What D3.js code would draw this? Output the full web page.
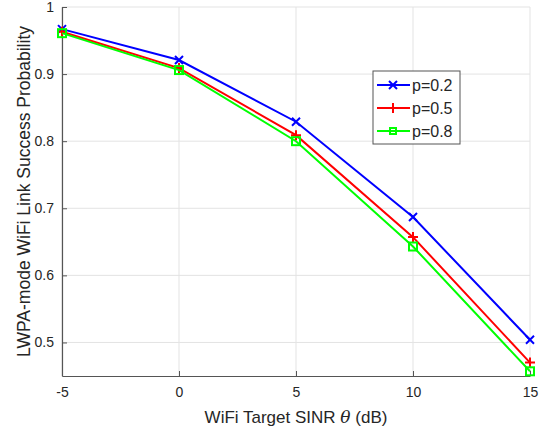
<!DOCTYPE html>
<html>
<head>
<meta charset="utf-8">
<script src="https://cdn.jsdelivr.net/npm/d3@7"></script>
<style>
  body { margin: 0; background: #fff; }
  text { font-family: "Liberation Sans", Arial, Helvetica, sans-serif; fill: #262626; }
</style>
</head>
<body>
<div id="chart"></div>
<script>
// data
var sinr = [-5, 0, 5, 10, 15];
var p02 = [0.967, 0.921, 0.829, 0.687, 0.504];
var p05 = [0.963, 0.909, 0.809, 0.657, 0.470];
var p08 = [0.961, 0.906, 0.800, 0.643, 0.457];
var seriesNames = ["p=0.2", "p=0.5", "p=0.8"];
var xTicks = [-5, 0, 5, 10, 15];
var yTicks = [0.5, 0.6, 0.7, 0.8, 0.9, 1];

var width = 547, height = 431;
var margin = {top: 7, right: 17, bottom: 55, left: 62};
var w = width - margin.left - margin.right,
    h = height - margin.top - margin.bottom;

var series = [
  {name: seriesNames[0], values: p02, color: "#0000ff", marker: "x"},
  {name: seriesNames[1], values: p05, color: "#ff0000", marker: "plus"},
  {name: seriesNames[2], values: p08, color: "#00ff00", marker: "square"}
];

var svg = d3.select("#chart").append("svg")
    .attr("width", width)
    .attr("height", height);

var g = svg.append("g")
    .attr("transform", "translate(" + margin.left + "," + margin.top + ")");

var x = d3.scaleLinear().domain([-5, 15]).range([0, w]);
var y = d3.scaleLinear().domain([0.45, 1]).range([h, 0]);

// grid
g.append("g").selectAll("line").data(xTicks)
  .enter().append("line")
    .attr("x1", function(d) { return x(d); })
    .attr("x2", function(d) { return x(d); })
    .attr("y1", 0).attr("y2", h)
    .attr("stroke", "#e3e3e3").attr("stroke-width", 1);

g.append("g").selectAll("line").data(yTicks)
  .enter().append("line")
    .attr("x1", 0).attr("x2", w)
    .attr("y1", function(d) { return y(d); })
    .attr("y2", function(d) { return y(d); })
    .attr("stroke", "#e3e3e3").attr("stroke-width", 1);

// axes (MATLAB style: ticks inward)
var xAxis = g.append("g")
    .attr("transform", "translate(0," + h + ")")
    .call(d3.axisBottom(x).tickValues(xTicks).tickSizeInner(-5).tickSizeOuter(0).tickPadding(11)
      .tickFormat(function(d) { return String(d); }));
var yAxis = g.append("g")
    .call(d3.axisLeft(y).tickValues(yTicks).tickSizeInner(-5).tickSizeOuter(0).tickPadding(8)
      .tickFormat(function(d) { return d === 1 ? "1" : d3.format(".1f")(d); }));

[xAxis, yAxis].forEach(function(a) {
  a.select(".domain").attr("stroke", "#555").attr("stroke-width", 1.2);
  a.selectAll(".tick line").attr("stroke", "#555");
  a.selectAll(".tick text").style("font-size", "14px").attr("fill", "#262626")
    .style("font-family", "'Liberation Sans', Arial, sans-serif");
});

// lines
var line = d3.line()
    .x(function(d, i) { return x(sinr[i]); })
    .y(function(d) { return y(d); });

function drawMarker(sel, type, color) {
  sel.each(function() {
    var m = d3.select(this);
    if (type === "x") {
      m.append("path").attr("d", "M-4,-4L4,4M-4,4L4,-4");
    } else if (type === "plus") {
      m.append("path").attr("d", "M-5,0L5,0M0,-5L0,5");
    } else {
      m.append("rect").attr("x", -4).attr("y", -4).attr("width", 8).attr("height", 8);
    }
    m.selectAll("path,rect").attr("fill", "none").attr("stroke", color).attr("stroke-width", 2);
  });
}

series.forEach(function(s) {
  g.append("path")
      .datum(s.values)
      .attr("d", line)
      .attr("fill", "none")
      .attr("stroke", s.color)
      .attr("stroke-width", 2);
  g.append("g").selectAll("g").data(s.values)
    .enter().append("g")
      .attr("transform", function(d, i) { return "translate(" + x(sinr[i]) + "," + y(d) + ")"; })
      .call(drawMarker, s.marker, s.color);
});

// legend
var legend = svg.append("g").attr("transform", "translate(373,71)");
legend.append("rect")
    .attr("width", 87).attr("height", 73)
    .attr("fill", "#fff").attr("stroke", "#555").attr("stroke-width", 1);

var item = legend.selectAll(".legend-item").data(series)
  .enter().append("g")
    .attr("class", "legend-item")
    .attr("transform", function(d, i) { return "translate(0," + (14 + i * 23) + ")"; });

item.append("line")
    .attr("x1", 4).attr("x2", 37)
    .attr("stroke", function(d) { return d.color; })
    .attr("stroke-width", 2);
item.append("g")
    .attr("transform", "translate(20,0)")
    .each(function(d) { drawMarker(d3.select(this), d.marker, d.color); });
item.select("g rect").attr("x", -3).attr("y", -3).attr("width", 6).attr("height", 6);
item.append("text")
    .attr("x", 39).attr("dy", "0.35em")
    .style("font-size", "16px")
    .text(function(d) { return d.name; });

// axis labels
svg.append("text")
    .attr("x", margin.left + w / 2).attr("y", 423)
    .attr("text-anchor", "middle")
    .style("font-size", "17px")
    .html('WiFi Target SINR <tspan font-family="\'DejaVu Serif\', serif" font-style="italic">θ</tspan> (dB)');

svg.append("text")
    .attr("transform", "translate(30," + (margin.top + h / 2) + ") rotate(-90)")
    .attr("text-anchor", "middle")
    .style("font-size", "17.5px")
    .text("LWPA-mode WiFi Link Success Probability");
</script>
</body>
</html>
